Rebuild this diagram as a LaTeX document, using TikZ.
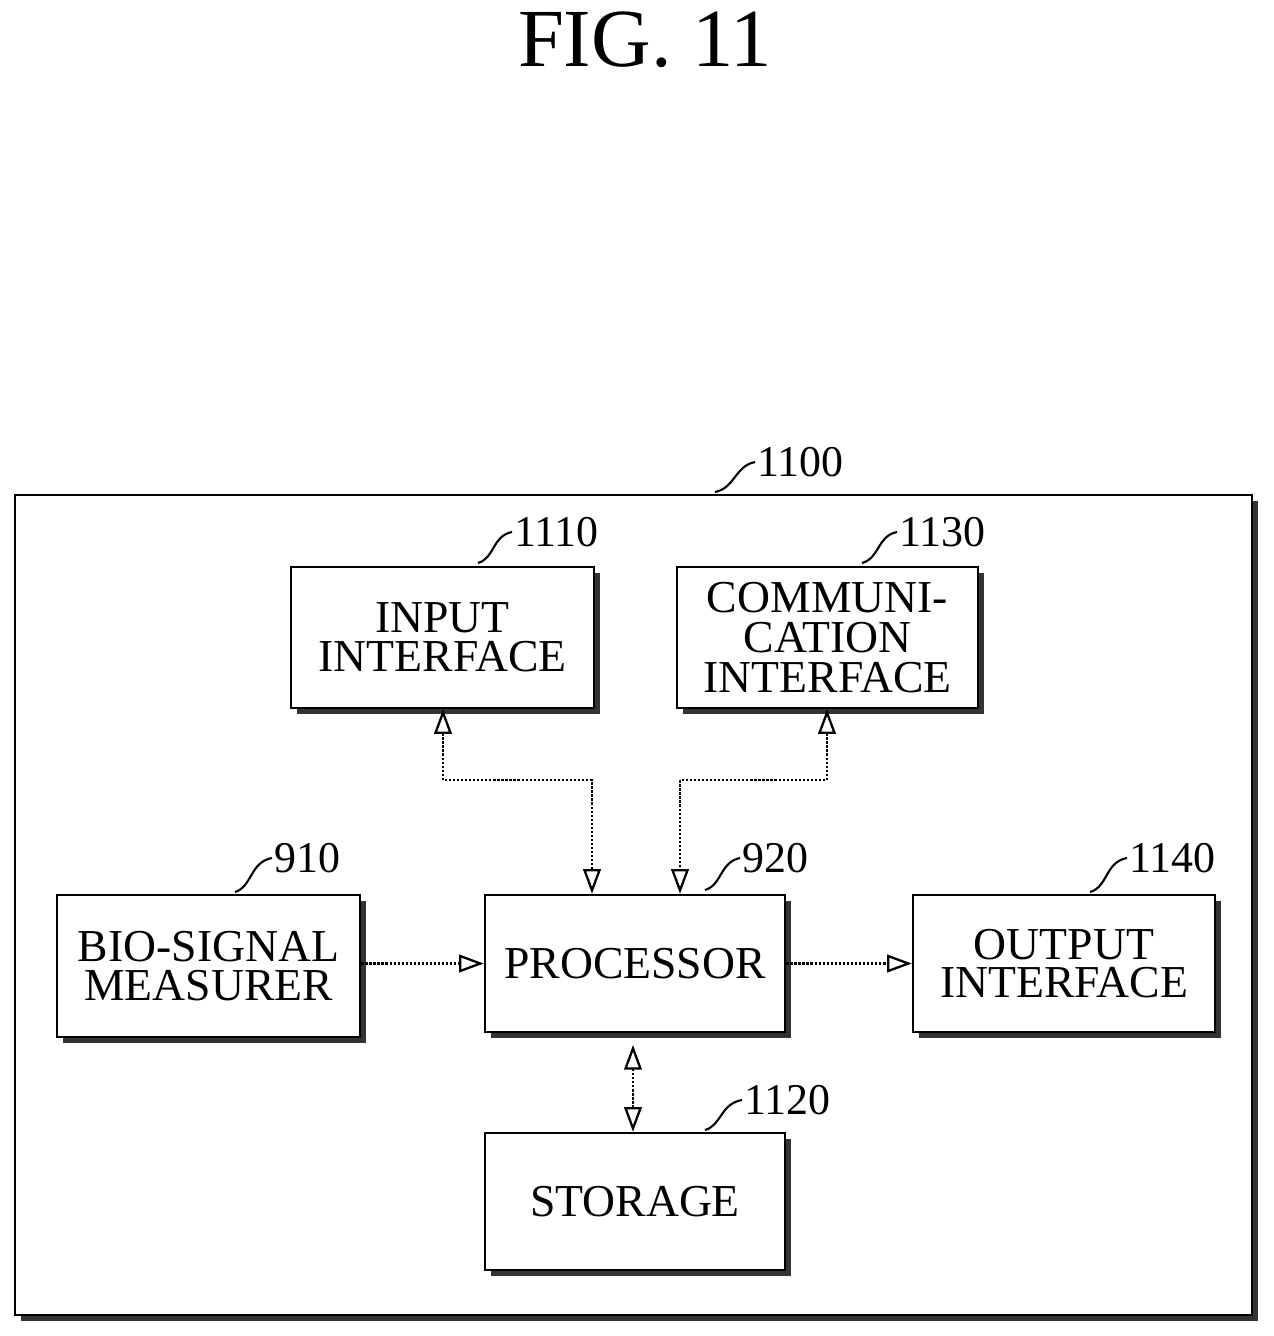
\documentclass[tikz,border=0pt]{standalone}
\usepackage{fontspec}
\setmainfont{Liberation Serif}
\usetikzlibrary{arrows.meta}
\newcommand{\shbox}[5]{%
  \fill[black!80] (#1+6,#2+6) rectangle (#3+6,#4+6);
  \node[box,minimum width=(#3-#1)*0.02cm,minimum height=(#4-#2)*0.02cm] (#5) at ({(#1+#3)/2},{(#2+#4)/2}) {};}
\begin{document}
\begin{tikzpicture}[x=0.02cm,y=-0.02cm,
  box/.style={draw=black,line width=1.4pt,fill=white,inner sep=0pt,align=center,
    font=\fontsize{26}{24}\selectfont},
  lbl/.style={font=\fontsize{25}{25}\selectfont,anchor=west,inner sep=1pt},
  lead/.style={line width=1.2pt},
  con/.style={line width=1.3pt,densely dotted,-{Triangle[open,length=14pt,width=10pt]}},
  dcon/.style={con,{Triangle[open,length=14pt,width=10pt]}-{Triangle[open,length=14pt,width=10pt]}}]
\useasboundingbox (0,0) rectangle (1274,1336);
\node[font=\fontsize{47}{47}\selectfont] (title) at (645,40) {FIG. 11};
\fill[black!80] (21,501) rectangle (1258,1321);
\draw[line width=1.4pt,fill=white] (15,495) rectangle (1252,1315);
\shbox{291}{567}{594}{708}{in}
\shbox{677}{567}{978}{708}{com}
\shbox{57}{895}{360}{1037}{bio}
\shbox{485}{895}{785}{1032}{proc}
\shbox{913}{895}{1215}{1032}{out}
\shbox{485}{1133}{785}{1270}{sto}
\node[box,draw=none,fill=none] (tin) at (in) {INPUT\\[-2pt]INTERFACE};
\node[box,draw=none,fill=none] (tcom) at (com) {COMMUNI-\\[-1pt]CATION\\[-1pt]INTERFACE};
\node[box,draw=none,fill=none] (tbio) at (bio) {BIO-SIGNAL\\[-2pt]MEASURER};
\node[box,draw=none,fill=none] (tproc) at (proc) {PROCESSOR};
\node[box,draw=none,fill=none] (tout) at (out) {OUTPUT\\[-2pt]INTERFACE};
\node[box,draw=none,fill=none] (tsto) at (sto) {STORAGE};
% labels
\node[lbl] (l1100) at (755,462) {1100};
\draw[lead] (715,492) .. controls (735,488) and (735,466) .. (l1100.west);
\node[lbl] (l1110) at (512,532) {1110};
\draw[lead] (478,563) .. controls (495,558) and (492,536) .. (l1110.west);
\node[lbl] (l1130) at (897,532) {1130};
\draw[lead] (862,563) .. controls (880,558) and (877,536) .. (l1130.west);
\node[lbl] (l910) at (272,858) {910};
\draw[lead] (235,892) .. controls (252,887) and (250,862) .. (l910.west);
\node[lbl] (l920) at (740,858) {920};
\draw[lead] (705,890) .. controls (722,885) and (720,862) .. (l920.west);
\node[lbl] (l1140) at (1127,858) {1140};
\draw[lead] (1090,892) .. controls (1108,887) and (1105,862) .. (l1140.west);
\node[lbl] (l1120) at (742,1100) {1120};
\draw[lead] (705,1130) .. controls (722,1125) and (720,1104) .. (l1120.west);
% connectors
\coordinate (a1) at (443,780); \coordinate (a2) at (592,780);
\draw[dcon] (in.south -| a1) -- (a1) -- (a2) -- (proc.north -| a2);
\coordinate (b1) at (827,780); \coordinate (b2) at (680,780);
\draw[dcon] (com.south -| b1) -- (b1) -- (b2) -- (proc.north -| b2);
\draw[con] (bio.east |- proc) -- (proc.west);
\draw[con] (proc.east) -- (out.west |- proc);
\coordinate (c1) at (633,1045);
\draw[dcon] (c1) -- (sto.north -| c1);
\end{tikzpicture}
\end{document}
